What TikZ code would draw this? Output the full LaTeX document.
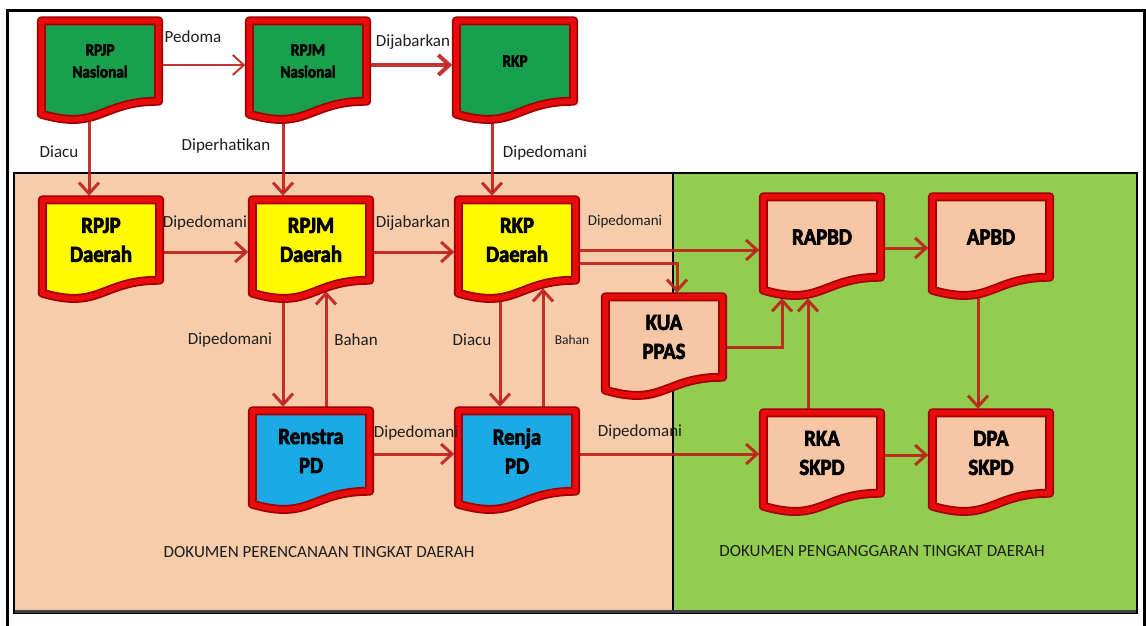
\documentclass[tikz,border=0pt]{standalone}
\usepackage{fontspec}
\setmainfont{Carlito}
\newfontfamily\boxfont{Carlito}[FakeBold=3, FakeStretch=0.9]
\usetikzlibrary{arrows.meta,calc}
\definecolor{zpeach}{RGB}{246,204,170}
\definecolor{zgreen}{RGB}{146,205,80}
\definecolor{bgreen}{RGB}{24,160,78}
\definecolor{byellow}{RGB}{255,250,0}
\definecolor{bblue}{RGB}{28,170,230}
\definecolor{bsalmon}{RGB}{247,198,165}
\definecolor{bred}{RGB}{232,12,12}
\definecolor{bdred}{RGB}{160,0,0}
\definecolor{arrred}{RGB}{190,30,28}
\definecolor{labtxt}{RGB}{30,30,30}
\pgfdeclarelayer{zone}\pgfdeclarelayer{arrows}\pgfdeclarelayer{shapes}
\pgfsetlayers{zone,arrows,shapes,main}
\newcommand\docshape[2]{%
  \path[fill=#2, draw=bdred, line width=9pt, line join=round,
        postaction={draw=bred, line width=5.5pt, line join=round}]
    (#1.north west) -- (#1.north east) -- (#1.south east)
    .. controls (#1.south) and ($(#1.south)+(0,30)$) .. ($(#1.south west)+(0,13)$) -- cycle;}
\tikzset{
  docbox/.style={minimum width=117pt, minimum height=80pt, inner sep=0pt, align=center,
     text=black, font=\boxfont\bfseries\fontsize{23}{29}\selectfont},
  topbox/.style={docbox, font=\boxfont\bfseries\fontsize{17}{22}\selectfont},
  lab/.style={font=\fontsize{17}{20}\selectfont, text=labtxt, inner sep=0pt},
  arr/.style={draw=arrred, draw opacity=.9, line width=3pt,
     -{Straight Barb[length=11pt,width=20pt]}, shorten >=4pt}
}
\begin{document}
\begin{tikzpicture}[x=1pt,y=-1pt]
\useasboundingbox (0,0) rectangle (1146,626);
% zones
\begin{pgfonlayer}{zone}
\fill[white] (0,0) rectangle (1146,626);
\filldraw[fill=zpeach, draw=black, line width=2.5pt] (14,173) rectangle (673,613);
\filldraw[fill=zgreen, draw=black, line width=2.5pt] (673,173) rectangle (1137,613);
\draw[black!75, line width=3pt] (15,611) -- (1136,611);
\draw[line width=3pt] (7,640) -- (7,11) -- (1144,11) -- (1144,640);
\end{pgfonlayer}
% boxes
\node[topbox] (rpjpn) at (100,61) {RPJP\\Nasional};
\node[topbox] (rpjmn) at (308,61) {RPJM\\Nasional};
\node[topbox] (rkpn) at (515,61) {RKP};
\node[docbox] (rpjpd) at (101,240) {RPJP\\Daerah};
\node[docbox] (rpjmd) at (311,240) {RPJM\\Daerah};
\node[docbox] (rkpd) at (517,240) {RKP\\Daerah};
\node[docbox] (kua) at (664,337) {KUA\\PPAS};
\node[docbox] (rapbd) at (822,237) {RAPBD};
\node[docbox] (apbd) at (991,237) {APBD};
\node[docbox] (renstra) at (311,451) {Renstra\\PD};
\node[docbox] (renja) at (517,451) {Renja\\PD};
\node[docbox] (rka) at (822,453) {RKA\\SKPD};
\node[docbox] (dpa) at (991,453) {DPA\\SKPD};
\begin{pgfonlayer}{shapes}
\docshape{rpjpn}{bgreen}\docshape{rpjmn}{bgreen}\docshape{rkpn}{bgreen}
\docshape{rpjpd}{byellow}\docshape{rpjmd}{byellow}\docshape{rkpd}{byellow}
\docshape{kua}{bsalmon}\docshape{rapbd}{bsalmon}\docshape{apbd}{bsalmon}
\docshape{renstra}{bblue}\docshape{renja}{bblue}
\docshape{rka}{bsalmon}\docshape{dpa}{bsalmon}
\end{pgfonlayer}
% connectors
\begin{pgfonlayer}{arrows}
\draw[arr, line width=2pt] ($(rpjpn.east)+(0,4)$) -- ($(rpjmn.west)+(0,4)$);
\draw[arr, line width=4pt] ($(rpjmn.east)+(0,4)$) -- ($(rkpn.west)+(0,4)$);
\coordinate (d1) at ($(rpjpn.south)+(-11,0)$);
\draw[arr] (d1) -- (d1 |- rpjpd.north);
\coordinate (d2) at ($(rpjmn.south)+(-25,0)$);
\draw[arr] (d2) -- (d2 |- rpjmd.north);
\coordinate (d3) at ($(rkpn.south)+(-23,0)$);
\draw[arr] (d3) -- (d3 |- rkpd.north);
\draw[arr] ($(rpjpd.east)+(0,12)$) -- ($(rpjmd.west)+(0,12)$);
\draw[arr] ($(rpjmd.east)+(0,12)$) -- ($(rkpd.west)+(0,12)$);
\coordinate (h1) at ($(rkpd.east)+(0,10)$);
\draw[arr] (h1) -- (h1 -| rapbd.west);
\coordinate (h2) at ($(rkpd.east)+(0,23)$);
\coordinate (k1) at ($(kua.north)+(13,0)$);
\draw[arr] (h2) -- (h2 -| k1) -- (k1);
\coordinate (h3) at ($(kua.east)+(0,10)$);
\coordinate (r1) at ($(rapbd.south)+(-40,17)$);
\draw[arr] (h3) -- (h3 -| r1) -- (r1);
\coordinate (u1) at ($(rka.north)+(-14,0)$);
\draw[arr] (u1) -- ($(rapbd.south)+(-14,17)$);
\draw[arr] ($(rapbd.east)+(0,11)$) -- ($(apbd.west)+(0,11)$);
\coordinate (d5) at ($(apbd.south)+(-13,0)$);
\draw[arr] (d5) -- (d5 |- dpa.north);
\draw[arr] ($(rka.east)+(0,2)$) -- ($(dpa.west)+(0,2)$);
\draw[arr] ($(renstra.east)+(0,3)$) -- ($(renja.west)+(0,3)$);
\coordinate (h4) at ($(renja.east)+(0,3)$);
\draw[arr] (h4) -- (h4 -| rka.west);
\coordinate (d6) at ($(rpjmd.south)+(-28,0)$);
\draw[arr] (d6) -- (d6 |- renstra.north);
\draw[arr] ($(renstra.north)+(15,0)$) -- ($(rpjmd.south)+(15,7)$);
\coordinate (d7) at ($(rkpd.south)+(-17,0)$);
\draw[arr] (d7) -- (d7 |- renja.north);
\draw[arr] ($(renja.north)+(26,0)$) -- ($(rkpd.south)+(26,4)$);
\end{pgfonlayer}
% labels
\node[lab] (l1) at (193,37) {Pedoma};
\node[lab] (l2) at (413,42) {Dijabarkan};
\node[lab] (l3) at (59,152) {Diacu};
\node[lab] (l4) at (226,146) {Diperhatikan};
\node[lab] (l5) at (545,153) {Dipedomani};
\node[lab] (l6) at (205,223) {Dipedomani};
\node[lab] (l7) at (413,223) {Dijabarkan};
\node[lab, font=\fontsize{15}{18}\selectfont] (l8) at (625,221) {Dipedomani};
\node[lab] (l9) at (230,340) {Dipedomani};
\node[lab] (l10) at (356,340) {Bahan};
\node[lab] (l11) at (472,340) {Diacu};
\node[lab, font=\fontsize{13.5}{16}\selectfont] (l12) at (572,340) {Bahan};
\node[lab] (l13) at (416,433) {Dipedomani};
\node[lab] (l14) at (640,432) {Dipedomani};
\node[lab] (t1) at (319,552) {DOKUMEN PERENCANAAN TINGKAT DAERAH};
\node[lab] (t2) at (882,551) {DOKUMEN PENGANGGARAN TINGKAT DAERAH};
\end{tikzpicture}
\end{document}
